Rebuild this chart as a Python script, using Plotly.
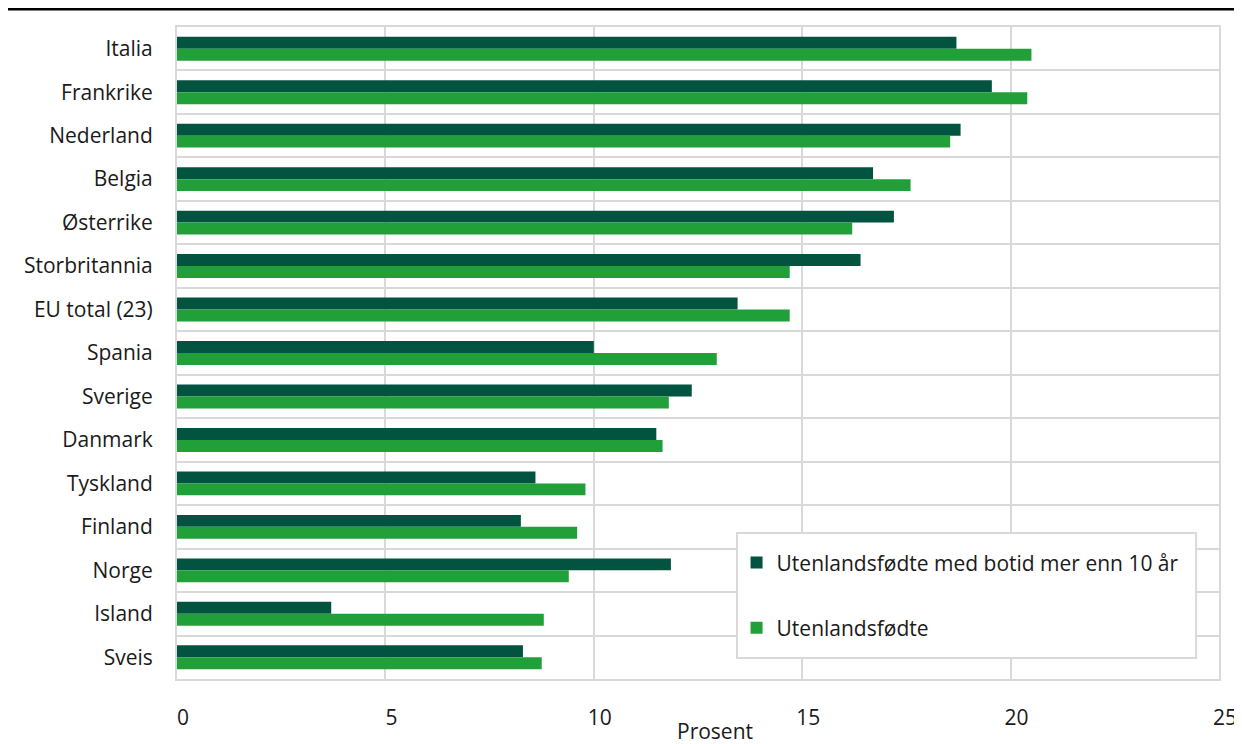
import plotly.graph_objects as go

countries = ["Italia", "Frankrike", "Nederland", "Belgia", "Østerrike", "Storbritannia",
             "EU total (23)", "Spania", "Sverige", "Danmark", "Tyskland", "Finland",
             "Norge", "Island", "Sveis"]
botid_10 = [18.7, 19.55, 18.8, 16.7, 17.2, 16.4, 13.45, 10.0, 12.35, 11.5, 8.6, 8.25, 11.85, 3.7, 8.3]
utenlandsfodte = [20.5, 20.4, 18.55, 17.6, 16.2, 14.7, 14.7, 12.95, 11.8, 11.65, 9.8, 9.6, 9.4, 8.8, 8.75]

names = ["Utenlandsfødte med botid mer enn 10 år", "Utenlandsfødte"]
colors = ["#02533f", "#21a039"]
x_ticks = [0, 5, 10, 15, 20, 25]

FONT = "Open Sans"
GRID = "#d9d9d9"
FS = 21

fig = go.Figure()
fig.add_trace(go.Bar(y=countries, x=botid_10, orientation="h", name=names[0],
                     marker=dict(color=colors[0], line=dict(width=0)),
                     legendgroup="a"))
fig.add_trace(go.Bar(y=countries, x=utenlandsfodte, orientation="h", name=names[1],
                     marker=dict(color=colors[1], line=dict(width=0)),
                     legendgroup="b"))

fig.update_layout(
    width=1234, height=736,
    margin=dict(l=169, r=23, t=19, b=65, autoexpand=False),
    paper_bgcolor="white", plot_bgcolor="white",
    barmode="group", bargap=0.45, bargroupgap=0,
    font=dict(family=FONT, size=FS, color="#1a1a1a"),
    showlegend=True,
    legend=dict(x=0.537, y=0.2095, xanchor="left", yanchor="top",
                bgcolor="rgba(0,0,0,0)", borderwidth=0,
                font=dict(size=FS), tracegroupgap=35, itemwidth=30),
    xaxis=dict(range=[0, 25], tickvals=x_ticks, ticktext=[str(v) for v in x_ticks],
               showgrid=True, gridcolor=GRID, gridwidth=2, zeroline=False,
               showline=True, linecolor=GRID, linewidth=2, mirror=True,
               ticks="outside", ticklen=19, tickcolor="rgba(0,0,0,0)",
               ticklabelshift=6, automargin=False),
    yaxis=dict(autorange="reversed", type="category", tickson="boundaries",
               showgrid=True, gridcolor=GRID, gridwidth=2,
               showline=True, linecolor=GRID, linewidth=2, mirror=True,
               ticks="", ticklabelstandoff=18, automargin=False),
)

# legend box
fig.add_shape(type="rect", xref="paper", yref="paper", x0=0.5374, x1=0.978,
              y0=0.0322, y1=0.2239, fillcolor="white",
              line=dict(color=GRID, width=2), layer="above")

fig.add_annotation(text="Prosent", xref="paper", yref="paper", x=0.516, y=-0.0805,
                   xanchor="center", yanchor="middle", showarrow=False,
                   font=dict(size=FS, family=FONT, color="#1a1a1a"))

fig.add_shape(type="line", xref="paper", yref="paper", x0=-0.17, x1=1.03,
              y0=1.0276, y1=1.0276, line=dict(color="black", width=3))

fig.write_html("out.html")
